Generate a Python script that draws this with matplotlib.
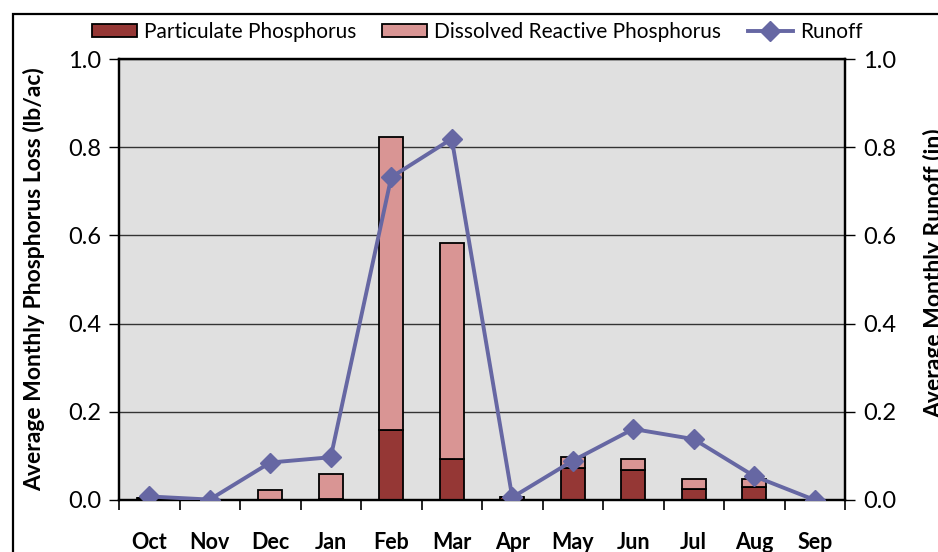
import numpy as np
import matplotlib
matplotlib.use("Agg")
from matplotlib import pyplot as plt
from matplotlib.patches import Rectangle
from matplotlib import font_manager

months = ['Oct', 'Nov', 'Dec', 'Jan', 'Feb', 'Mar', 'Apr', 'May', 'Jun', 'Jul', 'Aug', 'Sep']
particulate = [0.004, 0.0, 0.0, 0.003, 0.159, 0.093, 0.007, 0.073, 0.067, 0.026, 0.029, 0.0]
dissolved = [0.0, 0.0, 0.023, 0.056, 0.664, 0.490, 0.0, 0.025, 0.027, 0.022, 0.019, 0.0]
runoff = [0.008, 0.001, 0.085, 0.097, 0.732, 0.819, 0.006, 0.089, 0.161, 0.138, 0.054, 0.0]

plt.rcParams['font.family'] = ['Lato', 'DejaVu Sans']

# bold face: pick a family that really has a bold file
bold_fam = 'DejaVu Sans'
for fam in ['Lato', 'Open Sans', 'Noto Sans', 'Roboto']:
    ws = [f.weight for f in font_manager.fontManager.ttflist if f.name == fam]
    if any((w == 'bold' or (isinstance(w, int) and w >= 700)) for w in ws):
        bold_fam = fam
        break

fig = plt.figure(figsize=(9.38, 5.52), dpi=100)
ax = fig.add_axes([119/938, 1 - 500/552, (845 - 119)/938, (500 - 59)/552])
ax2 = ax.twinx()

# frame round the whole chart (cut at right and bottom)
fig.patches.append(Rectangle((13/938, -0.1), 1.2, 1 - 14/552 + 0.1, transform=fig.transFigure,
                             fill=False, edgecolor='black', linewidth=1.6))

x = np.arange(len(months))
ax.set_facecolor('#E0E0E0')
ax.bar(x, particulate, width=0.4, color='#953735', edgecolor='black', linewidth=1.3,
       label='Particulate Phosphorus', zorder=3)
ax.bar(x, dissolved, width=0.4, bottom=particulate, color='#D99594', edgecolor='black',
       linewidth=1.3, label='Dissolved Reactive Phosphorus', zorder=3)
ax2.plot(x, runoff, color='#6667A3', linewidth=2.8, marker='D', markersize=10,
         label='Runoff', zorder=4)

ax.set_xlim(-0.5, 11.5)
ax.set_ylim(0, 1.0)
ax2.set_ylim(0, 1.0)
ticks = np.arange(0, 1.01, 0.2)
ax.set_yticks(ticks)
ax2.set_yticks(ticks)
ax.set_yticklabels(['%.1f' % v for v in ticks], fontsize=17)
ax2.set_yticklabels(['%.1f' % v for v in ticks], fontsize=17)
ax.yaxis.grid(True, color='#333333', linewidth=1.0, zorder=0)
ax.set_axisbelow(True)

ax.set_xticks(x)
ax.set_xticklabels(months, fontsize=15.5, fontweight='bold', family=bold_fam)
ax.set_xticks(np.arange(-0.5, 12, 1), minor=True)
ax.tick_params(axis='x', which='major', length=0, pad=23)
ax.tick_params(axis='x', which='minor', length=7, width=1.2, direction='out')
ax.tick_params(axis='y', length=7, width=1.0, pad=6)
ax2.tick_params(axis='y', length=7, width=1.0, pad=6)

for s in ['left', 'right', 'bottom', 'top']:
    ax.spines[s].set_linewidth(1.6)
    ax2.spines[s].set_linewidth(1.6)

ax.set_ylabel('Average Monthly Phosphorus Loss (lb/ac)', fontsize=16.5, fontweight='bold',
              family=bold_fam)
ax.yaxis.set_label_coords(-0.102, 0.5)
ax2.set_ylabel('Average Monthly Runoff (in)', fontsize=16.5, fontweight='bold', family=bold_fam)
ax2.yaxis.set_label_coords(1.107, 0.515)

h1, l1 = ax.get_legend_handles_labels()
h2, l2 = ax2.get_legend_handles_labels()
fig.legend(h1 + h2, l1 + l2, loc='center', bbox_to_anchor=(0.5085, 1 - 32/552), ncol=3,
           frameon=False, fontsize=15, handlelength=2.16, handleheight=0.55,
           handletextpad=0.33, columnspacing=1.27)

fig.savefig('out.png', dpi=100)
